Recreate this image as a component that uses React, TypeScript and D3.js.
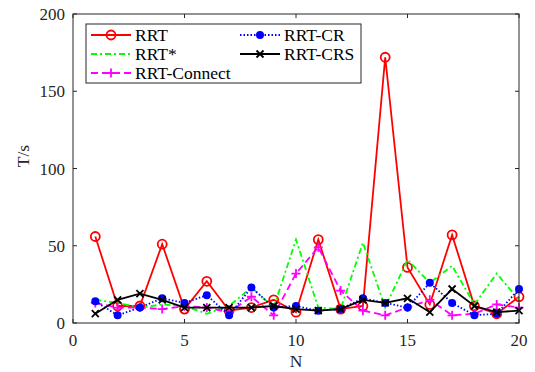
import React, { useEffect, useRef } from 'react';
import * as d3 from 'd3';

const nValues = d3.range(1, 21);
const rrt = [56, 11, 11, 51, 9, 27, 8, 10, 15, 7, 54, 9, 11, 172, 36, 12, 57, 11, 6, 17];
const rrtStar = [15, 13, 10, 12, 11, 6, 11, 23, 10, 54, 10, 9, 52, 10, 41, 26, 37, 12, 32, 15];
const rrtConnect = [13, 10, 10, 9, 11, 10, 7, 17, 5, 32, 49, 21, 8, 5, 10, 15, 5, 6, 12, 10];
const rrtCR = [14, 5, 10, 16, 13, 18, 5, 23, 10, 11, 8, 9, 16, 13, 10, 26, 13, 5, 6, 22];
const rrtCRS = [6, 15, 19, 15, 10, 10, 10, 10, 11, 9, 8, 9, 15, 13, 16, 7, 22, 11, 7, 8];
const xTicks = [0, 5, 10, 15, 20];
const yTicks = [0, 50, 100, 150, 200];

const seriesList = [
  { name: 'RRT', values: rrt, color: '#ff0000', dash: '', marker: 'o' },
  { name: 'RRT*', values: rrtStar, color: '#00ff00', dash: '6,3,2,3', marker: '' },
  { name: 'RRT-Connect', values: rrtConnect, color: '#ff00ff', dash: '7,4', marker: '+' },
  { name: 'RRT-CR', values: rrtCR, color: '#0000ff', dash: '1.5,2', marker: '.' },
  { name: 'RRT-CRS', values: rrtCRS, color: '#000000', dash: '', marker: 'x' },
];

const FONT = "'Liberation Serif', 'Times New Roman', Times, 'DejaVu Serif', serif";

const App = () => {
  const ref = useRef(null);

  useEffect(() => {
    const svg = d3.select(ref.current);
    svg.selectAll('*').remove();

    const left = 73, right = 519, top = 14, bottom = 323;
    const x = d3.scaleLinear().domain([0, 20]).range([left, right]);
    const y = d3.scaleLinear().domain([0, 200]).range([bottom, top]);
    const axisColor = '#262626';

    svg.append('rect').attr('width', 535).attr('height', 372).attr('fill', '#fff');

    const drawMarker = (g, type, cx, cy, color) => {
      if (type === 'o') {
        g.append('circle').attr('cx', cx).attr('cy', cy).attr('r', 4.5)
          .attr('fill', 'none').attr('stroke', color).attr('stroke-width', 1.8);
      } else if (type === '.') {
        g.append('circle').attr('cx', cx).attr('cy', cy).attr('r', 4).attr('fill', color);
      } else if (type === '+') {
        const s = 4.5;
        g.append('path').attr('d', `M${cx - s},${cy}H${cx + s}M${cx},${cy - s}V${cy + s}`)
          .attr('stroke', color).attr('stroke-width', 1.8);
      } else if (type === 'x') {
        const s = 3.5;
        g.append('path').attr('d', `M${cx - s},${cy - s}L${cx + s},${cy + s}M${cx - s},${cy + s}L${cx + s},${cy - s}`)
          .attr('stroke', color).attr('stroke-width', 1.8);
      }
    };

    const line = d3.line().x((d) => x(d[0])).y((d) => y(d[1]));

    seriesList.forEach((s) => {
      const pts = nValues.map((n, i) => [n, s.values[i]]);
      const g = svg.append('g');
      g.append('path').attr('d', line(pts)).attr('fill', 'none')
        .attr('stroke', s.color).attr('stroke-width', 1.8)
        .attr('stroke-dasharray', s.dash);
      pts.forEach((p) => drawMarker(g, s.marker, x(p[0]), y(p[1]), s.color));
    });

    // box and ticks
    svg.append('rect').attr('x', left).attr('y', top).attr('width', right - left).attr('height', bottom - top)
      .attr('fill', 'none').attr('stroke', axisColor).attr('stroke-width', 1);

    const label = (sel) => sel.style('font-family', FONT).attr('fill', axisColor);

    xTicks.forEach((t) => {
      svg.append('line').attr('x1', x(t)).attr('x2', x(t)).attr('y1', bottom).attr('y2', bottom - 4).attr('stroke', axisColor);
      svg.append('line').attr('x1', x(t)).attr('x2', x(t)).attr('y1', top).attr('y2', top + 4).attr('stroke', axisColor);
      svg.append('text').attr('x', x(t)).attr('y', bottom + 23).attr('text-anchor', 'middle')
        .attr('font-size', 17).call(label).text(t);
    });
    yTicks.forEach((t) => {
      svg.append('line').attr('x1', left).attr('x2', left + 4).attr('y1', y(t)).attr('y2', y(t)).attr('stroke', axisColor);
      svg.append('line').attr('x1', right).attr('x2', right - 4).attr('y1', y(t)).attr('y2', y(t)).attr('stroke', axisColor);
      svg.append('text').attr('x', left - 8).attr('y', y(t) + 6).attr('text-anchor', 'end')
        .attr('font-size', 17).call(label).text(t);
    });

    svg.append('text').attr('x', (left + right) / 2).attr('y', 367).attr('text-anchor', 'middle')
      .attr('font-size', 17.5).call(label).text('N');
    svg.append('text').attr('transform', `translate(29,156) rotate(-90)`)
      .attr('text-anchor', 'middle').attr('font-size', 17.5).call(label).text('T/s');

    // legend
    const lg = svg.append('g');
    lg.append('rect').attr('x', 86).attr('y', 24).attr('width', 275).attr('height', 59)
      .attr('fill', '#fff').attr('stroke', axisColor).attr('stroke-width', 1);
    const legendPos = [
      [91, 35], [91, 54], [91, 73], [240, 35], [240, 54],
    ];
    seriesList.forEach((s, i) => {
      const [lx, ly] = legendPos[i];
      lg.append('line').attr('x1', lx).attr('x2', lx + 40).attr('y1', ly).attr('y2', ly)
        .attr('stroke', s.color).attr('stroke-width', 1.8).attr('stroke-dasharray', s.dash);
      drawMarker(lg, s.marker, lx + 20, ly, s.color);
      lg.append('text').attr('x', lx + 44).attr('y', ly + 6)
        .attr('font-size', 17.5).style('font-family', FONT).attr('fill', '#000').text(s.name);
    });
  }, []);

  return <svg ref={ref} width={535} height={372} style={{ display: 'block', position: 'absolute', left: 0, top: 0 }}></svg>;
};

export default App;
